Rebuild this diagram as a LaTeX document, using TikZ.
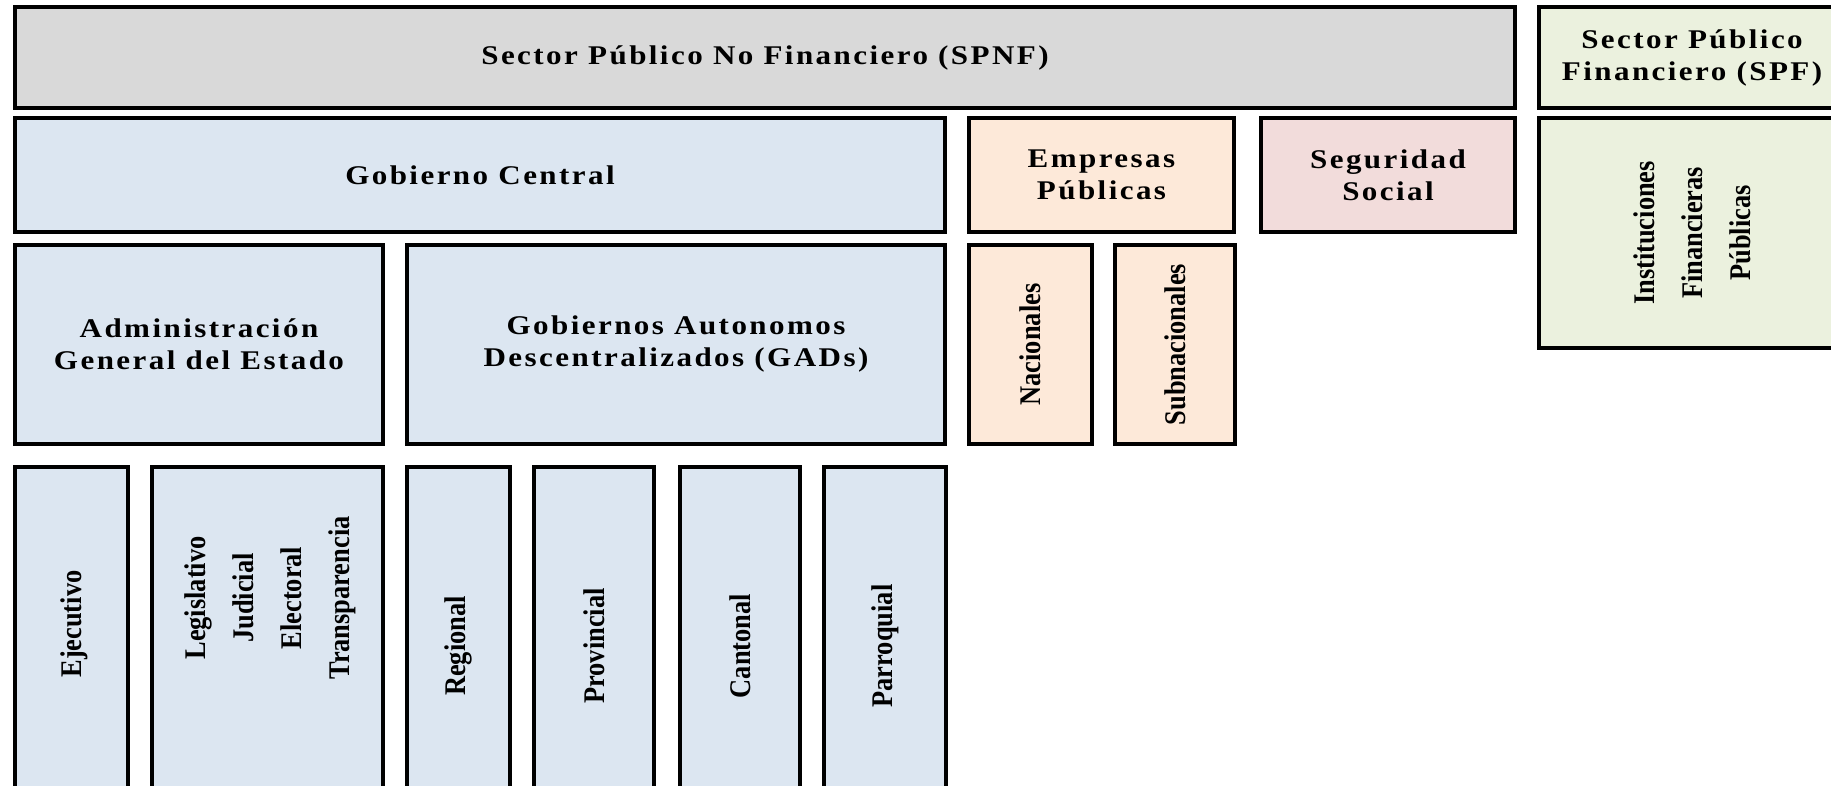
\documentclass[tikz,border=0pt]{standalone}
\usepackage{fontspec}
\setmainfont{Liberation Serif}[FakeStretch=1.15, LetterSpace=9]
\newfontfamily\vfont{Liberation Serif}[FakeStretch=0.88]
\definecolor{gris}{HTML}{D9D9D9}
\definecolor{azul}{HTML}{DCE6F1}
\definecolor{naranja}{HTML}{FDE9D9}
\definecolor{rosa}{HTML}{F2DCDB}
\definecolor{verde}{HTML}{EBF1DE}
\newcommand\lift[2]{\hspace*{#1}\begin{tabular}{@{}c@{}}#2\end{tabular}}
\begin{document}
\begin{tikzpicture}[x=1pt,y=-1pt,
  box/.style={draw=black, line width=4.8pt, rectangle, inner sep=0pt, align=center,
    font=\fontsize{27}{32}\selectfont\bfseries, text=black},
  vbox/.style={box, rotate=90, font=\vfont\fontsize{30}{48}\selectfont\bfseries},
  sz/.style 2 args={minimum width=#1, minimum height=#2},
]
\useasboundingbox (0,0) rectangle (1831,786);
\clip (0,0) rectangle (1831,786);
\fill[white] (0,0) rectangle (1831,786);
% row 1
\node[box, fill=gris, sz={1500pt}{101pt}] (spnf) at (765,57.5) {Sector Público No Financiero (SPNF)};
\node[box, fill=verde, sz={306pt}{101pt}] (spf) at (1692,57.5) {Sector Público\\Financiero (SPF)};
% row 2
\node[box, fill=azul, sz={930pt}{114pt}] (gc) at (480,175) {Gobierno Central};
\node[box, fill=naranja, sz={265pt}{114pt}] (emp) at (1101.5,175) {Empresas\\Públicas};
\node[box, fill=rosa, sz={254pt}{114pt}] (seg) at (1388,175) {Seguridad\\Social};
\node[vbox, fill=verde, sz={230pt}{306pt}] (ifp) at (1692,233) {Instituciones\\Financieras\\Públicas};
% row 3
\node[box, fill=azul, sz={368pt}{199pt}] (age) at (199,344.5) {Administración\\General del Estado};
\node[box, fill=azul, sz={538pt}{199pt}] (gad) at (676,344.5) {Gobiernos Autonomos\\Descentralizados (GADs)};
\node[vbox, fill=naranja, sz={199pt}{123pt}] (nac) at (1030.5,344.5) {Nacionales};
\node[vbox, fill=naranja, sz={199pt}{120pt}] (sub) at (1175,344.5) {Subnacionales};
% row 4
\node[vbox, fill=azul, sz={358pt}{113pt}] (eje) at (71.5,646) {\lift{44pt}{Ejecutivo}};
\node[vbox, fill=azul, sz={358pt}{231pt}] (leg) at (267.5,646) {\lift{96pt}{Legislativo\\Judicial\\Electoral\\Transparencia}};
\node[vbox, fill=azul, sz={358pt}{103pt}] (reg) at (458.5,646) {Regional};
\node[vbox, fill=azul, sz={358pt}{120pt}] (pro) at (594,646) {Provincial};
\node[vbox, fill=azul, sz={358pt}{120pt}] (can) at (740,646) {Cantonal};
\node[vbox, fill=azul, sz={358pt}{122pt}] (par) at (885,646) {Parroquial};
\end{tikzpicture}
\end{document}
